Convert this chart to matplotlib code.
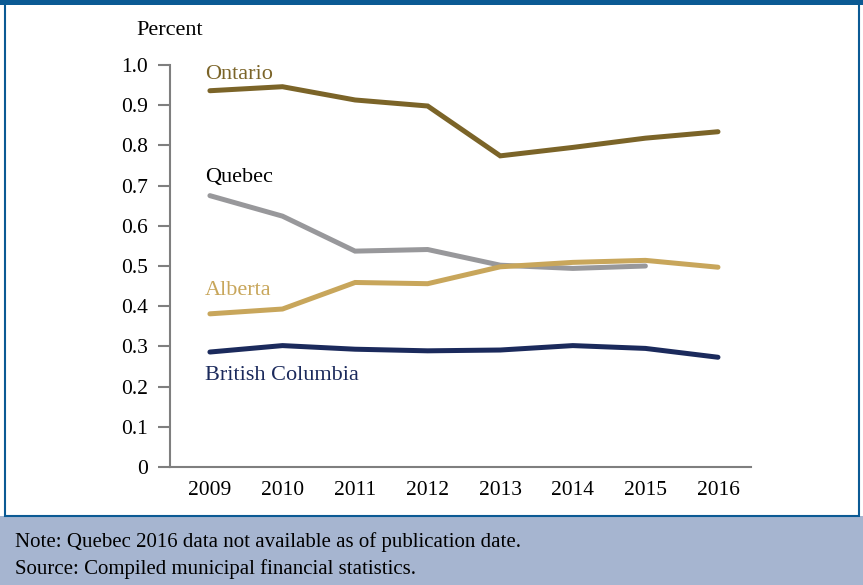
import matplotlib
matplotlib.use("Agg")
import matplotlib.pyplot as plt
from matplotlib.patches import Rectangle

years = [2009, 2010, 2011, 2012, 2013, 2014, 2015, 2016]
ontario = [0.936, 0.946, 0.913, 0.898, 0.774, 0.795, 0.818, 0.834]
quebec = [0.675, 0.624, 0.537, 0.541, 0.502, 0.494, 0.500]
alberta = [0.381, 0.393, 0.459, 0.456, 0.498, 0.509, 0.514, 0.497]
british_columbia = [0.286, 0.302, 0.293, 0.289, 0.291, 0.302, 0.295, 0.273]

y_ticks = [0, 0.1, 0.2, 0.3, 0.4, 0.5, 0.6, 0.7, 0.8, 0.9, 1.0]
y_tick_labels = ["0", "0.1", "0.2", "0.3", "0.4", "0.5", "0.6", "0.7", "0.8", "0.9", "1.0"]

note_text = "Note: Quebec 2016 data not available as of publication date."
source_text = "Source: Compiled municipal financial statistics."

C_ONT = "#7b6428"
C_QUE = "#98989b"
C_ALB = "#c8a65b"
C_BC = "#1b2a5c"
C_FRAME = "#0b5a94"
C_FOOT = "#a6b5d0"
C_AXIS = "#7f7f7f"

FONT = "Liberation Serif"
W, H = 863, 585

fig = plt.figure(figsize=(W / 100, H / 100), dpi=100)
fig.patch.set_facecolor("white")

def px_rect(x0, y0, x1, y1, **kw):
    # rectangle given in pixel coords measured from the top-left corner
    fig.patches.append(Rectangle((x0 / W, 1 - y1 / H), (x1 - x0) / W, (y1 - y0) / H,
                                 transform=fig.transFigure, figure=fig, **kw))

# footer band and frame
px_rect(0, 516, W, H, facecolor=C_FOOT, edgecolor="none", zorder=0)
px_rect(4.5, 2, W - 4.5, 516, facecolor="none", edgecolor=C_FRAME, linewidth=1.5, zorder=1)
px_rect(0, 0, W, 4.5, facecolor=C_FRAME, edgecolor="none", zorder=2)

ax = fig.add_axes([170 / W, 118 / H, (751 - 170) / W, (467 - 65) / H])
ax.set_facecolor("none")

lw = 3.6
ax.plot(years, ontario, color=C_ONT, lw=lw, solid_capstyle="round", solid_joinstyle="miter")
ax.plot(years[:len(quebec)], quebec, color=C_QUE, lw=lw, solid_capstyle="round", solid_joinstyle="miter")
ax.plot(years, alberta, color=C_ALB, lw=lw, solid_capstyle="round", solid_joinstyle="miter")
ax.plot(years, british_columbia, color=C_BC, lw=lw, solid_capstyle="round", solid_joinstyle="miter")

ax.set_xlim(2009 - 0.55, 2016 + 0.455)
ax.set_ylim(0, 1.0)
ax.set_yticks(y_ticks)
ax.set_yticklabels(y_tick_labels)
ax.set_xticks(years)
ax.set_xticklabels([str(y) for y in years])

for s in ["top", "right"]:
    ax.spines[s].set_visible(False)
for s in ["left", "bottom"]:
    ax.spines[s].set_color(C_AXIS)
    ax.spines[s].set_linewidth(1.5)
ax.spines["left"].set_zorder(0)
ax.tick_params(axis="y", length=8.5, width=1.5, color=C_AXIS, pad=7.5,
               labelsize=15.5, labelcolor="black")
ax.tick_params(axis="x", length=0, pad=10, labelsize=15.5, labelcolor="black")
for lbl in ax.get_xticklabels() + ax.get_yticklabels():
    lbl.set_fontfamily(FONT)

def fig_text(x, y, s, **kw):
    fig.text(x / W, 1 - y / H, s, fontfamily=FONT, **kw)

fig_text(170, 35, "Percent", fontsize=16, ha="center", va="baseline", color="black")
fig_text(205, 79, "Ontario", fontsize=16, ha="left", va="baseline", color=C_ONT)
fig_text(205, 182, "Quebec", fontsize=16, ha="left", va="baseline", color="black")
fig_text(205, 295, "Alberta", fontsize=16, ha="left", va="baseline", color=C_ALB)
fig_text(205, 380, "British Columbia", fontsize=16, ha="left", va="baseline", color=C_BC)

fig_text(15, 547, note_text, fontsize=15, ha="left", va="baseline", color="black")
fig_text(15, 574, source_text, fontsize=15, ha="left", va="baseline", color="black")

fig.savefig("out.png", dpi=100)
